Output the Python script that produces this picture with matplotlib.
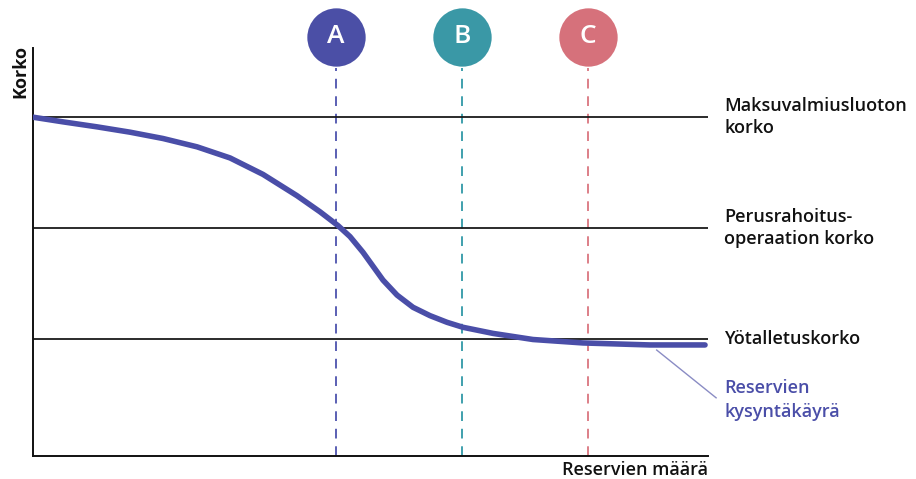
import matplotlib.pyplot as plt

plt.rcParams['font.family'] = ['Open Sans', 'DejaVu Sans']

# reserve demand curve
reserves = [0, 4.44, 9.48, 14.37, 19.26, 24.30, 29.19, 34.07, 39.11, 42.52, 45.2,
            46.96, 48.89, 50.37, 51.85, 53.93, 56.30, 58.81, 61.33, 63.70, 68.15,
            74.07, 81.48, 91.41, 99.56]
rate = [2.997, 2.955, 2.910, 2.862, 2.805, 2.730, 2.630, 2.482, 2.290, 2.145, 2.020,
        1.922, 1.780, 1.655, 1.530, 1.395, 1.285, 1.210, 1.150, 1.105, 1.050,
        0.995, 0.964, 0.946, 0.946]

# policy rates (maksuvalmiusluotto, perusrahoitus, yötalletus)
policy_names = ['Maksuvalmiusluoton\nkorko', 'Perusrahoitus-\noperaation korko', 'Yötalletuskorko']
policy_rates = [3.0, 2.0, 1.0]

# scenario markers
scen_names = ['A', 'B', 'C']
scen_x = [44.9, 63.6, 82.2]
scen_colors = ['#4b4fa6', '#3a98a6', '#d6717b']
dash_colors = ['#5a5fb3', '#3fa0ad', '#dd7f88']

curve_color = '#4a4ea8'
fs = 13

fig = plt.figure(figsize=(9.16, 4.79), dpi=100)
ax = fig.add_axes([33 / 916, 23 / 479, 675 / 916, 408 / 479])
ax.set_xlim(0, 100)
ax.set_ylim(-0.054, 3.62)

for s in ['top', 'right']:
    ax.spines[s].set_visible(False)
for s in ['left', 'bottom']:
    ax.spines[s].set_color('#111111')
    ax.spines[s].set_linewidth(1.4)
ax.set_xticks([])
ax.set_yticks([])

for r, name in zip(policy_rates, policy_names):
    ax.axhline(r, color='#1a1a1a', lw=1.3, zorder=2)
    ax.text(102.4, r, name, fontsize=fs, fontweight='semibold', va='center', ha='left',
            color='#111111', linespacing=1.3, clip_on=False)

for xv, lab, c, dc in zip(scen_x, scen_names, scen_colors, dash_colors):
    ax.plot([xv, xv], [-0.054, 3.44], color=dc, lw=1.4, dashes=(5, 4), zorder=1)
    ax.plot(xv, 3.72, 'o', ms=42, color=c, mec='none', clip_on=False)
    ax.text(xv, 3.72, lab, color='white', fontsize=19, fontweight='semibold',
            ha='center', va='center', clip_on=False)

ax.plot(reserves, rate, color=curve_color, lw=4, solid_capstyle='round',
        solid_joinstyle='round', zorder=3)

ax.plot([92.4, 101.2], [0.90, 0.47], color='#8a8cc4', lw=1, clip_on=False)
ax.text(102.4, 0.45, 'Reservien\nkysyntäkäyrä', fontsize=fs, fontweight='semibold',
        color='#4a4ea8', va='center', ha='left', linespacing=1.4, clip_on=False)

ax.text(100, -0.1, 'Reservien määrä', fontsize=fs, fontweight='semibold', color='#111111',
        ha='right', va='top', clip_on=False)
fig.text(20 / 916, 1 - 71 / 479, 'Korko', rotation=90, fontsize=13,
         fontweight='bold', color='#111111', ha='center', va='center')

fig.savefig('out.png', dpi=100)
